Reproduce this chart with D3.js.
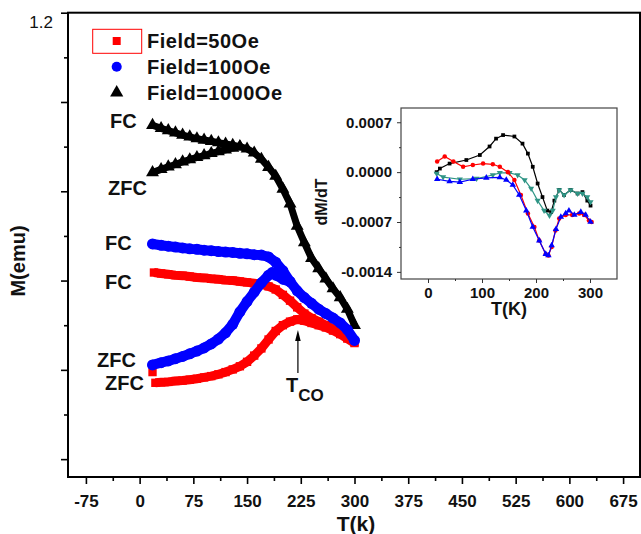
<!DOCTYPE html>
<html>
<head>
<meta charset="utf-8">
<script src="https://cdn.jsdelivr.net/npm/d3@7"></script>
<style>
  html, body { margin: 0; padding: 0; background: #fff; }
  svg { display: block; font-family: "Liberation Sans", Arial, Helvetica, sans-serif; font-weight: bold; }
</style>
</head>
<body>
<svg id="chart" width="641" height="534"></svg>
<script>
// ---- Main panel: M(T) curves, FC and ZFC at three fields ----
const blackFC_T = [18, 30, 40, 50, 60, 70, 80, 90, 100, 110, 120, 130, 140, 150, 160, 170, 180, 190, 200, 210, 220, 230, 240, 250, 260, 270, 280, 290, 300];
const blackFC_M = [0.948, 0.941, 0.936, 0.931, 0.926, 0.922, 0.918, 0.915, 0.912, 0.909, 0.906, 0.903, 0.900, 0.895, 0.886, 0.872, 0.854, 0.834, 0.805, 0.772, 0.722, 0.685, 0.650, 0.627, 0.604, 0.582, 0.562, 0.536, 0.500];
const blackZFC_T = [18, 30, 40, 50, 60, 70, 80, 90, 100, 110, 120, 130, 140];
const blackZFC_M = [0.842, 0.849, 0.855, 0.860, 0.866, 0.871, 0.876, 0.880, 0.885, 0.889, 0.893, 0.897, 0.900];

const blueFC_T = [18, 30, 40, 50, 60, 70, 80, 90, 100, 110, 120, 130, 140, 150, 160, 170, 180, 190, 200, 210, 220, 230, 240, 250, 260, 270, 280, 290, 300];
const blueFC_M = [0.682, 0.679, 0.677, 0.675, 0.673, 0.671, 0.670, 0.668, 0.667, 0.665, 0.664, 0.663, 0.661, 0.660, 0.658, 0.657, 0.653, 0.641, 0.622, 0.598, 0.577, 0.562, 0.549, 0.536, 0.526, 0.516, 0.505, 0.490, 0.466];
const blueZFC_T = [18, 30, 40, 50, 60, 70, 80, 90, 100, 110, 120, 130, 140, 150, 160, 170, 180, 185, 190, 200, 210];
const blueZFC_M = [0.411, 0.416, 0.420, 0.425, 0.430, 0.436, 0.442, 0.449, 0.458, 0.469, 0.483, 0.502, 0.530, 0.553, 0.574, 0.595, 0.612, 0.618, 0.612, 0.603, 0.597];

const redFC_T = [20, 30, 40, 50, 60, 70, 80, 90, 100, 110, 120, 130, 140, 150, 160, 170, 180, 190, 200, 210, 220, 230, 240, 250, 260, 270, 280, 290, 300];
const redFC_M = [0.618, 0.616, 0.614, 0.612, 0.611, 0.609, 0.607, 0.606, 0.604, 0.603, 0.601, 0.600, 0.598, 0.596, 0.594, 0.592, 0.587, 0.580, 0.568, 0.555, 0.540, 0.526, 0.516, 0.508, 0.500, 0.492, 0.483, 0.472, 0.462];
const redZFC_T = [18, 22, 30, 40, 50, 60, 70, 80, 90, 100, 110, 120, 130, 140, 150, 160, 170, 180, 190, 200, 210, 220, 230, 240, 250, 260, 270, 280, 290, 300];
const redZFC_M = [0.395, 0.371, 0.372, 0.373, 0.375, 0.376, 0.378, 0.380, 0.383, 0.386, 0.390, 0.395, 0.401, 0.408, 0.418, 0.432, 0.448, 0.468, 0.487, 0.500, 0.508, 0.513, 0.510, 0.505, 0.500, 0.495, 0.488, 0.480, 0.470, 0.460];

const xTicksMain = [-75, 0, 75, 150, 225, 300, 375, 450, 525, 600, 675];
const yTicksMain = [0.2, 0.4, 0.6, 0.8, 1.0, 1.2];
const legendLabels = ["Field=50Oe", "Field=100Oe", "Field=1000Oe"];

// ---- Inset: dM/dT ----
const inBlackT = [16, 22, 40, 71, 96, 114, 126, 139, 160, 175, 185, 194, 203, 212, 221, 228, 234, 243, 252, 264, 277, 286, 295, 301];
const inBlackV = [0, 0.00005, 0.00012, 0.00017, 0.00024, 0.00036, 0.00047, 0.00052, 0.0005, 0.0004, 0.00026, 0.000075, -0.00016, -0.00035, -0.00054, -0.00056, -0.0004, -0.00025, -0.00032, -0.00025, -0.0003, -0.00028, -0.0004, -0.00047];
const inTealT = [16, 28, 59, 90, 120, 133, 151, 166, 179, 191, 203, 215, 225, 231, 237, 243, 252, 264, 277, 286, 295, 301];
const inTealV = [-0.00002, -0.00007, -0.0001, -0.00009, -0.00004, -0.00001, -0.00001, -0.00004, -0.00011, -0.00023, -0.0004, -0.00054, -0.00061, -0.00054, -0.00035, -0.00025, -0.00032, -0.00025, -0.0003, -0.0003, -0.00035, -0.00042];
const inRedT = [17, 31, 47, 65, 83, 102, 120, 133, 148, 160, 172, 185, 197, 206, 218, 223, 229, 236, 243, 255, 267, 280, 289, 298, 303];
const inRedV = [0.00015, 0.00022, 0.00015, 0.000075, 0.0001, 0.00012, 0.00011, 0.000075, 0, -0.00011, -0.00032, -0.00058, -0.00077, -0.00096, -0.00115, -0.00117, -0.00105, -0.00082, -0.00065, -0.0006, -0.0006, -0.00058, -0.0006, -0.00068, -0.0007];
const inBlueT = [17, 40, 59, 83, 108, 133, 145, 157, 169, 182, 194, 206, 218, 223, 229, 237, 246, 255, 261, 271, 283, 292, 301];
const inBlueV = [-0.0001, -0.00013, -0.00014, -0.0001, -0.00008, -0.000075, -0.00011, -0.00018, -0.00032, -0.00054, -0.00077, -0.00096, -0.00115, -0.00117, -0.00103, -0.0008, -0.00063, -0.00058, -0.00054, -0.0006, -0.00056, -0.0006, -0.0007];
const xTicksInset = [0, 100, 200, 300];
const yTicksInset = [-0.0014, -0.0007, 0, 0.0007];

const zip = (a, b) => a.map((v, i) => [v, b[i]]);

const svg = d3.select("#chart");

// Main scales
const x = d3.scaleLinear().domain([-100, 700]).range([68, 641]);
const y = d3.scaleLinear().domain([0.16, 1.2]).range([477, 12.7]);

// Minor ticks halfway between majors
const xMinor = xTicksMain.slice(0, -1).map(d => d + 37.5);
const yMinor = yTicksMain.slice(0, -1).map(d => +(d + 0.1).toFixed(2));

const axisStyle = g => {
  g.selectAll("path.domain").remove();
  g.selectAll("line").attr("stroke", "#000").attr("stroke-width", 1.6);
};

// x axis
svg.append("g").attr("transform", `translate(0,477)`)
  .call(d3.axisBottom(x).tickValues(xMinor).tickSize(4).tickFormat(""))
  .call(axisStyle);
svg.append("g").attr("transform", `translate(0,477)`)
  .call(d3.axisBottom(x).tickValues(xTicksMain).tickSize(7).tickPadding(11).tickFormat(d => String(d)))
  .call(axisStyle)
  .call(g => g.selectAll("text").attr("font-size", 17).attr("font-weight", "bold").attr("fill", "#111")
    .attr("font-family", "Liberation Sans, Arial, sans-serif"));

// y axis (only the top value is labelled)
svg.append("g").attr("transform", `translate(68,0)`)
  .call(d3.axisLeft(y).tickValues(yMinor).tickSize(4).tickFormat(""))
  .call(axisStyle);
svg.append("g").attr("transform", `translate(68,0)`)
  .call(d3.axisLeft(y).tickValues(yTicksMain).tickSize(7).tickPadding(8)
    .tickFormat(d => Math.abs(d - 1.2) < 1e-9 ? "1.2" : ""))
  .call(axisStyle)
  .call(g => g.selectAll("text").attr("font-size", 17).attr("font-weight", "normal").attr("fill", "#111")
    .attr("font-family", "Liberation Sans, Arial, sans-serif").attr("dy", "0.85em"));

// Frame
svg.append("rect").attr("x", 68).attr("y", 12.7).attr("width", 572).attr("height", 464.3)
  .attr("fill", "none").attr("stroke", "#000").attr("stroke-width", 2);

// Series drawing helper: thick trace plus markers at every reading
const line = d3.line().x(d => x(d[0])).y(d => y(d[1]));
function drawSeries(data, color, width, symbol, size, lineData) {
  svg.append("path").datum(lineData || data).attr("d", line)
    .attr("fill", "none").attr("stroke", color).attr("stroke-width", width)
    .attr("stroke-linejoin", "round").attr("stroke-linecap", symbol === d3.symbolCircle ? "round" : "butt");
  svg.append("g").selectAll("path").data(data).join("path")
    .attr("transform", d => `translate(${x(d[0])},${y(d[1])})`)
    .attr("d", d3.symbol().type(symbol).size(size))
    .attr("fill", color);
}

// 1000 Oe
drawSeries(zip(blackZFC_T, blackZFC_M), "#000", 7, d3.symbolTriangle, 72);
drawSeries(zip(blackFC_T, blackFC_M), "#000", 7, d3.symbolTriangle, 72);
// 50 Oe
const redZ = zip(redZFC_T, redZFC_M);
drawSeries(redZ, "#ff0000", 9, d3.symbolSquare, 70, redZ.slice(1));
drawSeries(zip(redFC_T, redFC_M), "#ff0000", 9, d3.symbolSquare, 70);
// 100 Oe
drawSeries(zip(blueZFC_T, blueZFC_M), "#0000ff", 10, d3.symbolCircle, 95);
drawSeries(zip(blueFC_T, blueFC_M), "#0000ff", 10, d3.symbolCircle, 95);

// Legend
const leg = svg.append("g").attr("font-size", 20).attr("font-weight", "bold").attr("fill", "#111")
  .attr("letter-spacing", 0.5);
leg.append("rect").attr("x", 92.7).attr("y", 29.3).attr("width", 49).attr("height", 24)
  .attr("fill", "none").attr("stroke", "#ff0000").attr("stroke-width", 1);
const legSyms = [[d3.symbolSquare, 64, "#ff0000"], [d3.symbolCircle, 80, "#0000ff"], [d3.symbolTriangle, 75, "#000"]];
legendLabels.forEach((t, i) => {
  const cy = 41 + i * 25.8;
  leg.append("path").attr("transform", `translate(116.7,${cy})`)
    .attr("d", d3.symbol().type(legSyms[i][0]).size(legSyms[i][1])).attr("fill", legSyms[i][2]);
  leg.append("text").attr("x", 147).attr("y", cy + 7).text(t);
});

// Curve labels
const labels = [["FC", 110, 128], ["ZFC", 108, 195], ["FC", 105, 250], ["FC", 105, 289], ["ZFC", 97, 367], ["ZFC", 105, 390]];
svg.append("g").attr("font-size", 20).attr("font-weight", "bold").attr("fill", "#111")
  .selectAll("text").data(labels).join("text")
  .attr("x", d => d[1]).attr("y", d => d[2]).text(d => d[0]);

// T_CO arrow at the 50 Oe ZFC maximum
const tco = 221;
const ax = x(tco);
svg.append("line").attr("x1", ax).attr("x2", ax).attr("y1", 337).attr("y2", 373)
  .attr("stroke", "#000").attr("stroke-width", 1.2);
svg.append("path").attr("d", `M${ax},330 L${ax - 2.8},341 L${ax + 2.8},341 Z`).attr("fill", "#000");
const tl = svg.append("text").attr("x", 286).attr("y", 392).attr("font-size", 20).attr("font-weight", "bold").attr("fill", "#111");
tl.append("tspan").text("T");
tl.append("tspan").attr("dy", 9).attr("font-size", 17).text("CO");

// Axis titles
svg.append("text").attr("transform", "translate(25,261) rotate(-90)").attr("text-anchor", "middle")
  .attr("font-size", 20).attr("font-weight", "bold").attr("fill", "#111").text("M(emu)");
svg.append("text").attr("x", 356).attr("y", 531).attr("text-anchor", "middle")
  .attr("font-size", 21).attr("font-weight", "bold").attr("fill", "#111").text("T(k)");

// ---- Inset ----
const xi = d3.scaleLinear().domain([-50, 350]).range([401, 617]);
const yi = d3.scaleLinear().domain([-0.0015, 0.0009]).range([279, 108]);
const inset = svg.append("g");
inset.append("rect").attr("x", 401).attr("y", 108).attr("width", 216).attr("height", 171)
  .attr("fill", "#fff").attr("stroke", "#444").attr("stroke-width", 1.2);

const inAxisStyle = g => {
  g.selectAll("path.domain").remove();
  g.selectAll("line").attr("stroke", "#333").attr("stroke-width", 1);
  g.selectAll("text").attr("font-size", 15).attr("font-weight", "bold").attr("fill", "#111")
    .attr("font-family", "Liberation Sans, Arial, sans-serif");
};
inset.append("g").attr("transform", "translate(0,279)")
  .call(d3.axisBottom(xi).tickValues([50, 150, 250]).tickSize(2).tickFormat(""))
  .call(inAxisStyle);
inset.append("g").attr("transform", "translate(0,279)")
  .call(d3.axisBottom(xi).tickValues(xTicksInset).tickSize(4).tickPadding(4).tickFormat(d => String(d)))
  .call(inAxisStyle);
inset.append("g").attr("transform", "translate(401,0)")
  .call(d3.axisLeft(yi).tickValues([0.00035, -0.00035, -0.00105]).tickSize(2).tickFormat(""))
  .call(inAxisStyle);
inset.append("g").attr("transform", "translate(401,0)")
  .call(d3.axisLeft(yi).tickValues(yTicksInset).tickSize(4).tickPadding(5).tickFormat(d => d.toFixed(4)))
  .call(inAxisStyle);

const iline = d3.line().x(d => xi(d[0])).y(d => yi(d[1]));
function drawInset(data, color, symbol, size, rot) {
  inset.append("path").datum(data).attr("d", iline)
    .attr("fill", "none").attr("stroke", color).attr("stroke-width", 1.2);
  inset.append("g").selectAll("path").data(data).join("path")
    .attr("transform", d => `translate(${xi(d[0])},${yi(d[1])}) rotate(${rot || 0})`)
    .attr("d", d3.symbol().type(symbol).size(size))
    .attr("fill", color);
}
drawInset(zip(inBlackT, inBlackV), "#000", d3.symbolSquare, 14);
drawInset(zip(inTealT, inTealV), "#2f9585", d3.symbolTriangle, 16, 180);
drawInset(zip(inRedT, inRedV), "#ff0000", d3.symbolCircle, 16);
drawInset(zip(inBlueT, inBlueV), "#0000ff", d3.symbolTriangle, 18);

inset.append("text").attr("x", 509).attr("y", 315).attr("text-anchor", "middle")
  .attr("font-size", 18).attr("font-weight", "bold").attr("fill", "#111").text("T(K)");
inset.append("text").attr("transform", "translate(327,202) rotate(-90)").attr("text-anchor", "middle")
  .attr("font-size", 16).attr("font-weight", "bold").attr("fill", "#111").text("dM/dT");
</script>
</body>
</html>
